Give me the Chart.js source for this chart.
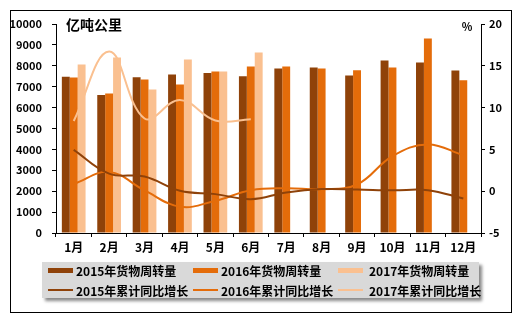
<!DOCTYPE html>
<html>
<head>
<meta charset="utf-8">
<script src="https://cdn.jsdelivr.net/npm/chart.js@4"></script>
<style>
    body { margin: 0; background: #fff; }
    #wrap { position: relative; width: 521px; height: 324px; }
    #frame { position: absolute; left: 10px; top: 10px; width: 500px; height: 301px; border: 1px solid #000; pointer-events: none; }
    #legend { position: absolute; left: 42px; top: 262px; width: 437px; height: 36px; background: #d9d9d9; box-shadow: 3px 3px 3px #8a8a8a; }
    .item { position: absolute; height: 20px; display: flex; align-items: center; font: bold 12px "Noto Sans CJK SC", sans-serif; color: #000; white-space: nowrap; }
    .swatch { display: inline-block; width: 25px; margin-right: 3px; }
</style>
</head>
<body>
<div id="wrap">
    <canvas id="freightChart" width="521" height="324"></canvas>
    <div id="frame"></div>
    <div id="legend"></div>
</div>
<script>
// Months on the category axis
const months = ['1月', '2月', '3月', '4月', '5月', '6月', '7月', '8月', '9月', '10月', '11月', '12月'];

// Freight turnover, 100 million ton-km
const turnover2015 = [7480, 6600, 7450, 7580, 7650, 7500, 7870, 7920, 7540, 8250, 8160, 7770];
const turnover2016 = [7440, 6680, 7350, 7100, 7730, 7970, 7970, 7870, 7790, 7920, 9310, 7310];
const turnover2017 = [8060, 8400, 6870, 8300, 7730, 8640, null, null, null, null, null, null];

// Cumulative year-on-year growth, %
const growth2015 = [4.95, 2.1, 1.75, 0.05, -0.35, -0.95, -0.15, 0.25, 0.2, 0.1, 0.12, -0.88];
const growth2016 = [0.85, 2.3, 0.1, -1.85, -1.15, 0.12, 0.36, 0.24, 0.8, 4.2, 5.6, 4.3];
const growth2017 = [8.4, 16.7, 8.7, 10.9, 8.45, 8.6, null, null, null, null, null, null];

const leftTicks = { min: 0, max: 10000, step: 1000 };
const rightTicks = { min: -5, max: 20, step: 5 };

const colors = {
    y2015: '#8f4209',
    y2016: '#e46c0a',
    y2017: '#fac090'
};

const fontFamily = '"Noto Sans CJK SC", sans-serif';

// Axis captions drawn above the value axes
const axisCaptions = {
    id: 'axisCaptions',
    afterDraw(chart) {
        const ctx = chart.ctx;
        ctx.save();
        ctx.fillStyle = '#000';
        ctx.textBaseline = 'middle';
        ctx.font = 'bold 14px ' + fontFamily;
        ctx.textAlign = 'left';
        ctx.fillText('亿吨公里', 66, 25);
        ctx.font = 'bold 11px ' + fontFamily;
        ctx.textAlign = 'center';
        ctx.fillText('%', 467, 27);
        ctx.restore();
    }
};

function barSet(label, data, color) {
    return {
        type: 'bar',
        label: label,
        data: data,
        backgroundColor: color,
        borderWidth: 0,
        yAxisID: 'y',
        order: 2,
        categoryPercentage: 0.67,
        barPercentage: 1
    };
}

function lineSet(label, data, color) {
    return {
        type: 'line',
        label: label,
        data: data,
        borderColor: color,
        backgroundColor: color,
        borderWidth: 2,
        pointRadius: 0,
        tension: 0.4,
        fill: false,
        yAxisID: 'y1',
        order: 1
    };
}

const datasets = [
    barSet('2015年货物周转量', turnover2015, colors.y2015),
    barSet('2016年货物周转量', turnover2016, colors.y2016),
    barSet('2017年货物周转量', turnover2017, colors.y2017),
    lineSet('2015年累计同比增长', growth2015, colors.y2015),
    lineSet('2016年累计同比增长', growth2016, colors.y2016),
    lineSet('2017年累计同比增长', growth2017, colors.y2017)
];

const axisGrid = {
    display: true,
    drawOnChartArea: false,
    drawTicks: true,
    tickLength: 4,
    color: '#000'
};

// Plain numbers, no thousands separator
function plainNumber(value) {
    return String(value);
}

new Chart(document.getElementById('freightChart').getContext('2d'), {
    type: 'bar',
    data: { labels: months, datasets: datasets },
    options: {
        responsive: false,
        animation: false,
        layout: { padding: { top: 24, left: 0, right: 0, bottom: 0 } },
        plugins: {
            legend: { display: false },
            tooltip: { enabled: false }
        },
        scales: {
            x: {
                grid: axisGrid,
                border: { color: '#000', width: 1 },
                ticks: { color: '#000', font: { family: fontFamily, size: 12, weight: 'bold' }, padding: 3, maxRotation: 0 },
                afterFit: function(scale) { scale.height = 91; }
            },
            y: {
                position: 'left',
                min: leftTicks.min,
                max: leftTicks.max,
                grid: axisGrid,
                border: { color: '#000', width: 1 },
                ticks: { stepSize: leftTicks.step, callback: plainNumber, color: '#000', font: { family: fontFamily, size: 11, weight: 'bold' }, padding: 10 },
                afterFit: function(scale) { scale.width = 56; }
            },
            y1: {
                position: 'right',
                min: rightTicks.min,
                max: rightTicks.max,
                grid: axisGrid,
                border: { color: '#000', width: 1 },
                ticks: { stepSize: rightTicks.step, callback: plainNumber, color: '#000', font: { family: fontFamily, size: 11, weight: 'bold' }, padding: 4 },
                afterFit: function(scale) { scale.width = 40; }
            }
        }
    },
    plugins: [axisCaptions]
});

// Legend: bar series on the first row, growth lines on the second
const legendEl = document.getElementById('legend');
const columnLeft = [6, 151, 296];
datasets.forEach(function(ds, i) {
    const item = document.createElement('div');
    item.className = 'item';
    item.style.left = columnLeft[i % 3] + 'px';
    item.style.top = (i < 3 ? -2 : 18) + 'px';
    const sw = document.createElement('span');
    sw.className = 'swatch';
    sw.style.height = ds.type === 'bar' ? '5px' : '2px';
    sw.style.background = ds.type === 'bar' ? ds.backgroundColor : ds.borderColor;
    if (i % 3 === 2) sw.style.marginRight = '6px';
    item.appendChild(sw);
    item.appendChild(document.createTextNode(ds.label));
    legendEl.appendChild(item);
});
</script>
</body>
</html>
